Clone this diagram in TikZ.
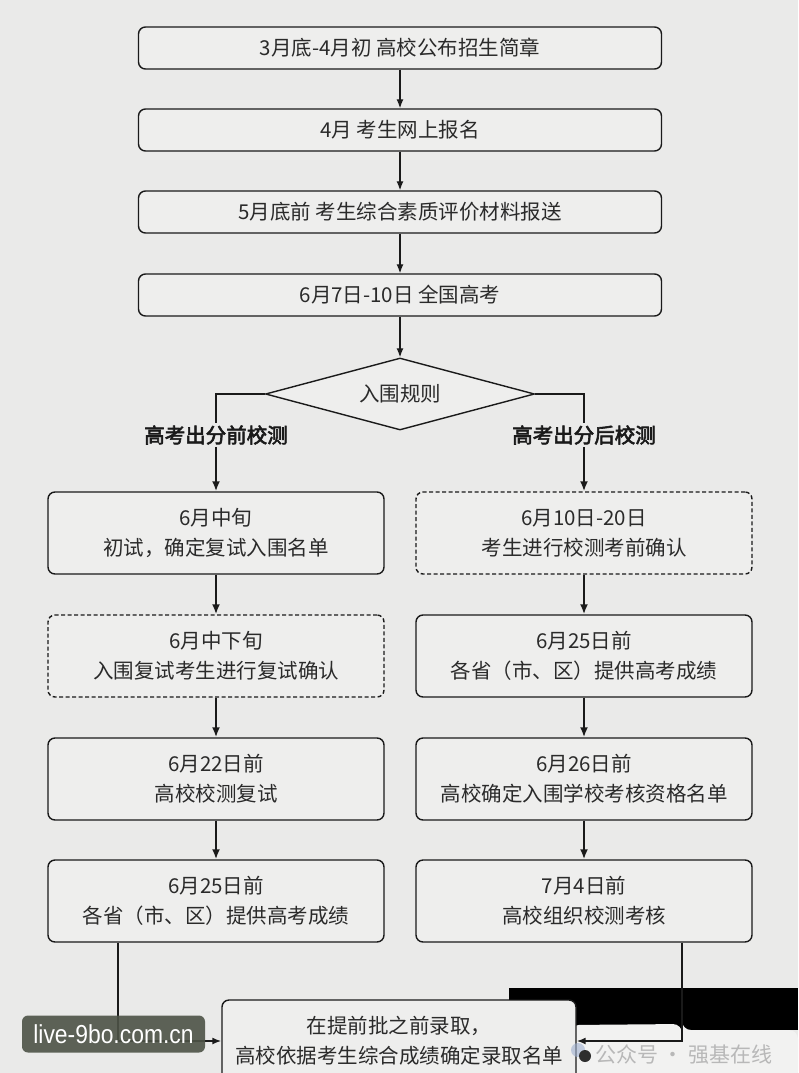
\documentclass[tikz,border=0pt]{standalone}
\usepackage{fontspec}
\setmainfont{Noto Sans CJK SC}
\newfontfamily\cjkbold{Noto Sans CJK SC}[FakeBold=3]
\newfontfamily\latinsans{Liberation Sans}[FakeStretch=0.88]
\usetikzlibrary{shapes.geometric,arrows.meta}
\definecolor{bg}{HTML}{EAEAE9}
\definecolor{boxfill}{HTML}{EEEEED}
\definecolor{ink}{HTML}{1A1A1A}
\definecolor{txt}{HTML}{2A2A2A}
\definecolor{wmbox}{HTML}{4D5347}
\definecolor{wmlight}{HTML}{F2F2F1}
\definecolor{wmtext}{HTML}{B8B8B8}
\definecolor{wmicon}{HTML}{2E2E2E}
\definecolor{wmglow}{HTML}{9FB0D0}
\begin{document}
\begin{tikzpicture}[x=1pt,y=-1pt,
  box/.style={draw=ink,line width=1.4pt,rounded corners=7pt,fill=boxfill,align=center,text=txt,font=\fontsize{20.5}{30}\selectfont,inner sep=0pt},
  topbox/.style={box,minimum width=523pt,minimum height=42pt},
  colbox/.style={box,minimum width=336pt,minimum height=82pt},
  dbox/.style={dash pattern=on 4pt off 2.5pt},
  arr/.style={draw=ink,line width=1.3pt,-{Latex[length=9pt,width=7pt]}},
  carr/.style={draw=ink,line width=2.2pt,-{Latex[length=10pt,width=8pt]}},
  barr/.style={draw=ink,line width=1.6pt,-{Latex[length=9pt,width=7pt]}},
  lab/.style={font=\cjkbold\fontsize{20.5}{24}\selectfont,fill=bg,inner sep=2pt,text=ink},
  decision/.style={diamond,shape aspect=3.74,draw=ink,line width=1.4pt,fill=boxfill,minimum width=269pt,minimum height=72pt,inner sep=0pt,text=txt,font=\fontsize{20.5}{24}\selectfont}
]
\useasboundingbox (0,0) rectangle (798,1073);
\fill[bg] (0,0) rectangle (798,1073);
% overlay artefacts
\fill[black] (509,988) rectangle (798,1030);
\fill[wmlight,rounded corners=9pt] (570,1025) -- (682,1024) -- (682,1030) -- (798,1030) -- (798,1080) -- (570,1080) -- cycle;

\node[topbox] (T1) at (400,48) {3月底-4月初 高校公布招生简章};
\node[topbox] (T2) at (400,130) {4月 考生网上报名};
\node[topbox] (T3) at (400,212) {5月底前 考生综合素质评价材料报送};
\node[topbox] (T4) at (400,295) {6月7日-10日 全国高考};
\node[decision] (D) at (400,394) {入围规则};

\node[colbox] (L1) at (216,533) {6月中旬\\初试，确定复试入围名单};
\node[colbox,dbox] (L2) at (216,656) {6月中下旬\\入围复试考生进行复试确认};
\node[colbox] (L3) at (216,779) {6月22日前\\高校校测复试};
\node[colbox] (L4) at (216,901) {6月25日前\\各省（市、区）提供高考成绩};

\node[colbox,dbox] (R1) at (584,533) {6月10日-20日\\考生进行校测考前确认};
\node[colbox] (R2) at (584,656) {6月25日前\\各省（市、区）提供高考成绩};
\node[colbox] (R3) at (584,779) {6月26日前\\高校确定入围学校考核资格名单};
\node[colbox] (R4) at (584,901) {7月4日前\\高校组织校测考核};

\node[box,minimum width=354pt,minimum height=82pt] (F) at (399,1041) {在提前批之前录取，\\高校依据考生综合成绩确定录取名单};

\draw[arr] (T1) -- (T2);
\draw[arr] (T2) -- (T3);
\draw[arr] (T3) -- (T4);
\draw[arr] (T4) -- (D);
\draw[carr] (D.west) -| (L1.north);
\draw[carr] (D.east) -| (R1.north);
\node[lab] (labL) at (216,435) {高考出分前校测};
\node[lab] (labR) at (584,435) {高考出分后校测};

\draw[carr] (L1) -- (L2);
\draw[carr] (L2) -- (L3);
\draw[carr] (L3) -- (L4);
\draw[carr] (R1) -- (R2);
\draw[carr] (R2) -- (R3);
\draw[carr] (R3) -- (R4);

\draw[barr] ([xshift=-98pt]L4.south) |- (F.west);
\draw[barr] ([xshift=98pt]R4.south) |- (F.east);

% watermarks
\fill[wmglow,opacity=0.6] (578,1050) circle (7pt);
\fill[wmicon] (585,1056) circle (6pt);
\node[text=wmtext,font=\fontsize{21}{24}\selectfont,anchor=west,inner sep=0pt] (wm2) at (595,1055) {公众号 · 强基在线};
\node[fill=wmbox,fill opacity=0.9,text opacity=1,rounded corners=6pt,minimum width=183pt,minimum height=37pt,inner sep=0pt,text=white,font=\latinsans\fontsize{26}{28}\selectfont] (wm1) at (113.5,1034) {live-9bo.com.cn};
\end{tikzpicture}
\end{document}
